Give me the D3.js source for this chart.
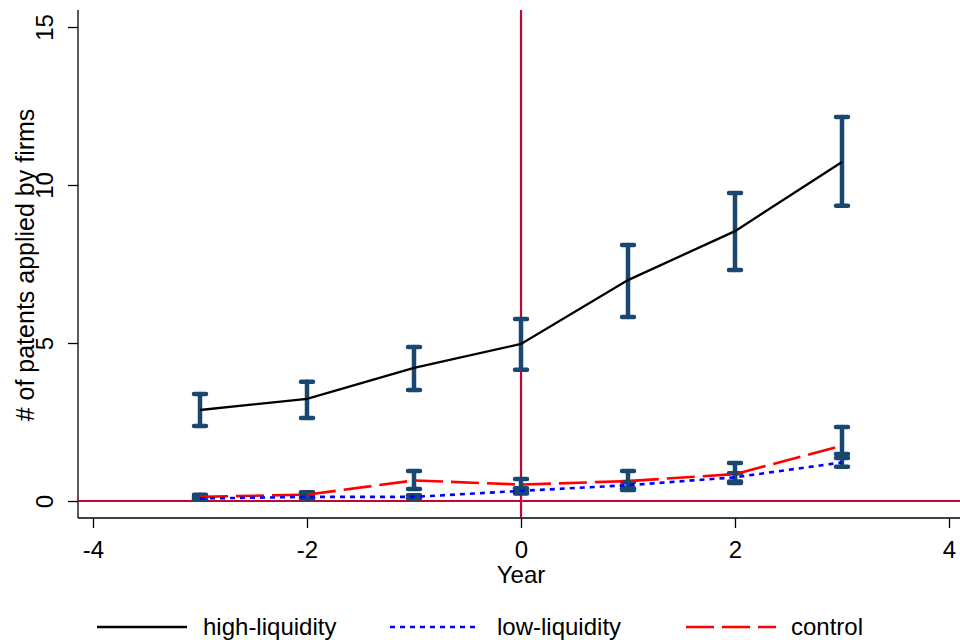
<!DOCTYPE html>
<html><head><meta charset="utf-8">
<script src="https://cdn.jsdelivr.net/npm/d3@7"></script>
<style>body{margin:0;background:#fff}svg{display:block}text{font-family:"Liberation Sans",Arial,sans-serif;fill:#000}</style>
</head><body><svg id="c" width="960" height="640"></svg>
<script>
const years = [-3,-2,-1,0,1,2,3];
const highMean = [2.88,3.23,4.21,4.97,6.99,8.54,10.73];
const highLo   = [2.37,2.63,3.51,4.15,5.82,7.31,9.34];
const highHi   = [3.39,3.77,4.87,5.76,8.10,9.75,12.15];
const lowMean  = [0.08,0.13,0.13,0.32,0.50,0.75,1.22];
const lowLo    = [0.05,0.08,0.08,0.24,0.40,0.62,1.08];
const lowHi    = [0.14,0.20,0.18,0.40,0.60,0.88,1.36];
const ctlMean  = [0.13,0.20,0.65,0.52,0.63,0.85,1.75];
const ctlLo    = [0.08,0.12,0.38,0.30,0.35,0.57,1.49];
const ctlHi    = [0.20,0.28,0.95,0.70,0.95,1.20,2.34];
const xTicks = [-4,-2,0,2,4];
const yTicks = [0,5,10,15];
const legendLabels = ["high-liquidity","low-liquidity","control"];

(function(){
const svg = d3.select("#c");
const x = d3.scaleLinear().domain([-4,4]).range([93,949]);
const y = d3.scaleLinear().domain([0,15]).range([501,27]);
const pL = 78, pT = 10, pB = 518, pR = 960;
const navy = "#1a476f", crimson = "#c10534";
const ff = "'Liberation Sans',Arial,sans-serif";
const fmt = d => String(d);

const xa = svg.append("g").attr("transform",`translate(0,${pB})`)
  .call(d3.axisBottom(x).tickValues(xTicks).tickSize(10).tickPadding(0).tickFormat(fmt));
xa.select(".domain").attr("d",`M${pL},0H${pR}`).attr("stroke","#000").attr("stroke-width",1.3);
xa.selectAll("text").attr("font-size",24).attr("y",40).attr("dy",0).style("font-family",ff);
xa.selectAll("line").attr("stroke","#000").attr("stroke-width",1.3);

const ya = svg.append("g").attr("transform",`translate(${pL},0)`)
  .call(d3.axisLeft(y).tickValues(yTicks).tickSize(10).tickFormat(fmt));
ya.select(".domain").attr("d",`M0,${pT}V${pB}`).attr("stroke","#000").attr("stroke-width",1.3);
ya.selectAll("line").attr("stroke","#000").attr("stroke-width",1.3);
ya.selectAll("text").attr("font-size",24).attr("text-anchor","middle")
  .attr("x",0).attr("dy",0).attr("transform","translate(-25,0) rotate(-90)")
  .style("font-family",ff);

svg.append("text").attr("x",x(0)).attr("y",583).attr("text-anchor","middle")
  .attr("font-size",24).text("Year");
svg.append("text").attr("transform",`translate(34,265) rotate(-90)`)
  .attr("text-anchor","middle").attr("font-size",25).text("# of patents applied by firms");

svg.append("line").attr("x1",pL).attr("x2",pR).attr("y1",y(0)).attr("y2",y(0))
  .attr("stroke",crimson).attr("stroke-width",2.2);
svg.append("line").attr("x1",x(0)).attr("x2",x(0)).attr("y1",pT).attr("y2",pB)
  .attr("stroke",crimson).attr("stroke-width",2.2);

function errBars(lo, hi){
  const g = svg.append("g").attr("stroke",navy).attr("stroke-linecap","round");
  years.forEach((yr,i)=>{
    const cx = x(yr);
    g.append("line").attr("x1",cx).attr("x2",cx).attr("y1",y(lo[i])).attr("y2",y(hi[i])).attr("stroke-width",4.5);
    [lo[i],hi[i]].forEach(v=>g.append("line").attr("x1",cx-6).attr("x2",cx+6).attr("y1",y(v)).attr("y2",y(v)).attr("stroke-width",4.5));
  });
}
errBars(highLo,highHi);
errBars(ctlLo,ctlHi);
errBars(lowLo,lowHi);

const line = d3.line().x((d,i)=>x(years[i])).y(d=>y(d));
svg.append("path").datum(ctlMean).attr("d",line).attr("fill","none").attr("stroke","#ff0000").attr("stroke-width",2.6).attr("stroke-dasharray","28,8");
svg.append("path").datum(lowMean).attr("d",line).attr("fill","none").attr("stroke","#0000ff").attr("stroke-width",2.6).attr("stroke-dasharray","5,5");
svg.append("path").datum(highMean).attr("d",line).attr("fill","none").attr("stroke","#000").attr("stroke-width",2.3);

const legX = [97,390,686];
const textX = [203,497,791];
const styles = [{c:"#000",d:null,w:2.6},{c:"#0000ff",d:"5,5",w:2.6},{c:"#ff0000",d:"28,8",w:2.6}];
legendLabels.forEach((lab,i)=>{
  const l = svg.append("line").attr("x1",legX[i]).attr("x2",legX[i]+90).attr("y1",627).attr("y2",627)
    .attr("stroke",styles[i].c).attr("stroke-width",styles[i].w);
  if(styles[i].d) l.attr("stroke-dasharray",styles[i].d);
  svg.append("text").attr("x",textX[i]).attr("y",635).attr("font-size",24).text(lab);
});
})();
</script></body></html>
